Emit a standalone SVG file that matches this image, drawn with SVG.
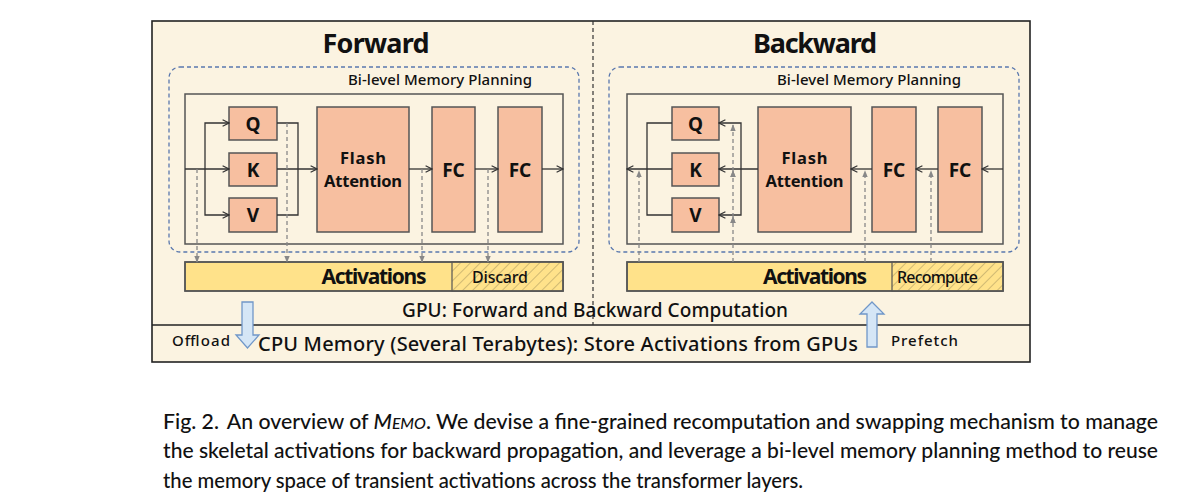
<svg xmlns="http://www.w3.org/2000/svg" width="1180" height="502" viewBox="0 0 1180 502">
<defs>
<marker id="open" viewBox="0 0 10 10" refX="9" refY="5" markerWidth="8" markerHeight="8" markerUnits="userSpaceOnUse" orient="auto">
<path d="M1,1 L9,5 L1,9" fill="none" stroke="#333" stroke-width="1.4"/>
</marker>
<marker id="tri" viewBox="0 0 10 10" refX="9" refY="5" markerWidth="7" markerHeight="7" markerUnits="userSpaceOnUse" orient="auto">
<path d="M0,1 L10,5 L0,9 Z" fill="#888"/>
</marker>
<pattern id="hatch" patternUnits="userSpaceOnUse" width="7" height="7" patternTransform="rotate(45)">
<rect width="7" height="7" fill="#FFE28A"/>
<line x1="0" y1="0" x2="0" y2="7" stroke="#8a7a50" stroke-width="0.8"/>
</pattern>
<style>
.lbl{font-family:"Noto Sans","DejaVu Sans",sans-serif;fill:#111;text-anchor:middle;font-weight:500}
.b{font-weight:bold}
.box{fill:#F7BFA0;stroke:#555;stroke-width:1.5}
.inner{fill:none;stroke:#555;stroke-width:1.5}
.plan{fill:none;stroke:#5A78AE;stroke-width:1.3;stroke-dasharray:4,3}
.bar{fill:#FFE28A;stroke:#555;stroke-width:1.5}
.wire{fill:none;stroke:#333;stroke-width:1.3}
.dash{fill:none;stroke:#888;stroke-width:1.3;stroke-dasharray:4,3}
.blk{fill:#D5E6F6;stroke:#7097C8;stroke-width:1.3}
.cap{font-family:Lato,"Open Sans",sans-serif;font-size:21.5px;fill:#111;font-weight:500}
</style>
</defs>

<rect x="152" y="21" width="878" height="341" fill="#FBF3E1" stroke="#222" stroke-width="1.6"/>
<line x1="152" y1="325" x2="1030" y2="325" stroke="#222" stroke-width="1.5"/>
<line x1="593" y1="21" x2="593" y2="325" stroke="#333" stroke-width="1.2" stroke-dasharray="4,3"/>

<text class="lbl b" x="376" y="53" font-size="27" textLength="107">Forward</text>
<text class="lbl b" x="815" y="53" font-size="27" textLength="124">Backward</text>

<g id="fwd-plan">
<rect class="plan" x="169" y="67" width="410" height="185" rx="11"/>
<text class="lbl" x="440" y="85" font-size="15" textLength="184">Bi-level Memory Planning</text>
<rect class="inner" x="185" y="94" width="378" height="150"/>
</g>
<g id="fwd-q"><rect class="box" x="229" y="107" width="48" height="33"/><text class="lbl b" x="253" y="130.5" font-size="19">Q</text></g>
<g id="fwd-k"><rect class="box" x="229" y="153" width="48" height="33"/><text class="lbl b" x="253" y="176.5" font-size="19">K</text></g>
<g id="fwd-v"><rect class="box" x="229" y="198" width="48" height="34"/><text class="lbl b" x="253" y="222" font-size="19">V</text></g>
<g id="fwd-fa"><rect class="box" x="317" y="107" width="92" height="125"/><text class="lbl b" x="363" y="163.5" font-size="16.5" textLength="46">Flash</text><text class="lbl b" x="363" y="187" font-size="16.5" textLength="78">Attention</text></g>
<g id="fwd-fc1"><rect class="box" x="432" y="107" width="43" height="125"/><text class="lbl b" x="453.5" y="177" font-size="19">FC</text></g>
<g id="fwd-fc2"><rect class="box" x="498" y="107" width="44" height="125"/><text class="lbl b" x="520" y="177" font-size="19">FC</text></g>
<g id="fwd-act">
<rect class="bar" x="185" y="262" width="378" height="29"/>
<rect x="452" y="262" width="111" height="29" fill="url(#hatch)" stroke="#555" stroke-width="1.2"/>
<rect x="185" y="262" width="378" height="29" fill="none" stroke="#555" stroke-width="1.5"/>
<text class="lbl b" x="374" y="284" font-size="21" textLength="105">Activations</text>
<text class="lbl" x="500" y="283" font-size="16" textLength="56">Discard</text>
</g>

<g id="bwd-plan">
<rect class="plan" x="609" y="67" width="410" height="185" rx="11"/>
<text class="lbl" x="869" y="85" font-size="15" textLength="184">Bi-level Memory Planning</text>
<rect class="inner" x="627" y="94" width="376" height="150"/>
</g>
<g id="bwd-q"><rect class="box" x="672" y="107" width="47" height="33"/><text class="lbl b" x="695.5" y="130.5" font-size="19">Q</text></g>
<g id="bwd-k"><rect class="box" x="672" y="153" width="47" height="33"/><text class="lbl b" x="695.5" y="176.5" font-size="19">K</text></g>
<g id="bwd-v"><rect class="box" x="672" y="198" width="47" height="34"/><text class="lbl b" x="695.5" y="222" font-size="19">V</text></g>
<g id="bwd-fa"><rect class="box" x="758" y="107" width="93" height="125"/><text class="lbl b" x="804.5" y="163.5" font-size="16.5" textLength="46">Flash</text><text class="lbl b" x="804.5" y="187" font-size="16.5" textLength="78">Attention</text></g>
<g id="bwd-fc1"><rect class="box" x="872" y="107" width="44" height="125"/><text class="lbl b" x="894" y="177" font-size="19">FC</text></g>
<g id="bwd-fc2"><rect class="box" x="938" y="107" width="44" height="125"/><text class="lbl b" x="960" y="177" font-size="19">FC</text></g>
<g id="bwd-act">
<rect class="bar" x="627" y="262" width="376" height="29"/>
<rect x="892" y="262" width="111" height="29" fill="url(#hatch)" stroke="#555" stroke-width="1.2"/>
<rect x="627" y="262" width="376" height="29" fill="none" stroke="#555" stroke-width="1.5"/>
<text class="lbl b" x="815" y="284" font-size="21" textLength="104">Activations</text>
<text class="lbl" x="937.5" y="283" font-size="16" textLength="81">Recompute</text>
</g>

<g id="connectors">
<path class="wire" d="M185,169 H229" marker-end="url(#open)"/>
<path class="wire" d="M205,169 V123 H229" marker-end="url(#open)"/>
<path class="wire" d="M205,169 V215 H229" marker-end="url(#open)"/>
<path class="wire" d="M277,123 H298 V215 H277"/>
<path class="wire" d="M277,169 H317" marker-end="url(#open)"/>
<path class="wire" d="M409,169 H432" marker-end="url(#open)"/>
<path class="wire" d="M475,169 H498" marker-end="url(#open)"/>
<path class="wire" d="M542,169 H563" marker-end="url(#open)"/>
<path class="dash" d="M197,169 V262" marker-end="url(#tri)"/>
<path class="dash" d="M287,123 V262" marker-end="url(#tri)"/>
<path class="dash" d="M422,169 V262" marker-end="url(#tri)"/>
<path class="dash" d="M488,169 V262" marker-end="url(#tri)"/>
<path class="wire" d="M1003,169 H982" marker-end="url(#open)"/>
<path class="wire" d="M938,169 H916" marker-end="url(#open)"/>
<path class="wire" d="M872,169 H851" marker-end="url(#open)"/>
<path class="wire" d="M758,169 H719" marker-end="url(#open)"/>
<path class="wire" d="M741,169 V123 H719" marker-end="url(#open)"/>
<path class="wire" d="M741,169 V215 H719" marker-end="url(#open)"/>
<path class="wire" d="M672,123 H647 V215 H672"/>
<path class="wire" d="M672,169 H627" marker-end="url(#open)"/>
<path class="dash" d="M639,262 V171" marker-end="url(#tri)"/>
<path class="dash" d="M733,262 V217 M733,217 V171 M733,171 V125" marker-end="url(#tri)" marker-mid="url(#tri)"/>
<path class="dash" d="M865,262 V171" marker-end="url(#tri)"/>
<path class="dash" d="M931,262 V171" marker-end="url(#tri)"/>
<path class="blk" d="M242,302 H253 V335 H259 L247.5,348 L236,335 H242 Z"/>
<path class="blk" d="M872,302 L884,314 H877 V347 H867 V314 H860 Z"/>
</g>

<text class="lbl" x="595" y="317" font-size="19" textLength="386">GPU: Forward and Backward Computation</text>
<text class="lbl" x="558" y="351" font-size="20" textLength="600">CPU Memory (Several Terabytes): Store Activations from GPUs</text>
<text class="lbl" x="201" y="346" font-size="15" textLength="58">Offload</text>
<text class="lbl" x="924.5" y="346" font-size="15" textLength="67">Prefetch</text>

<text class="cap" x="163" y="429" textLength="995" lengthAdjust="spacingAndGlyphs">Fig. 2.<tspan dx="8">An overview of </tspan><tspan font-style="italic">M</tspan><tspan font-style="italic" font-size="16">EMO</tspan>. We devise a fine-grained recomputation and swapping mechanism to manage</text>
<text class="cap" x="163" y="458" textLength="995" lengthAdjust="spacingAndGlyphs">the skeletal activations for backward propagation, and leverage a bi-level memory planning method to reuse</text>
<text class="cap" x="163" y="488" textLength="640" lengthAdjust="spacingAndGlyphs">the memory space of transient activations across the transformer layers.</text>
</svg>
